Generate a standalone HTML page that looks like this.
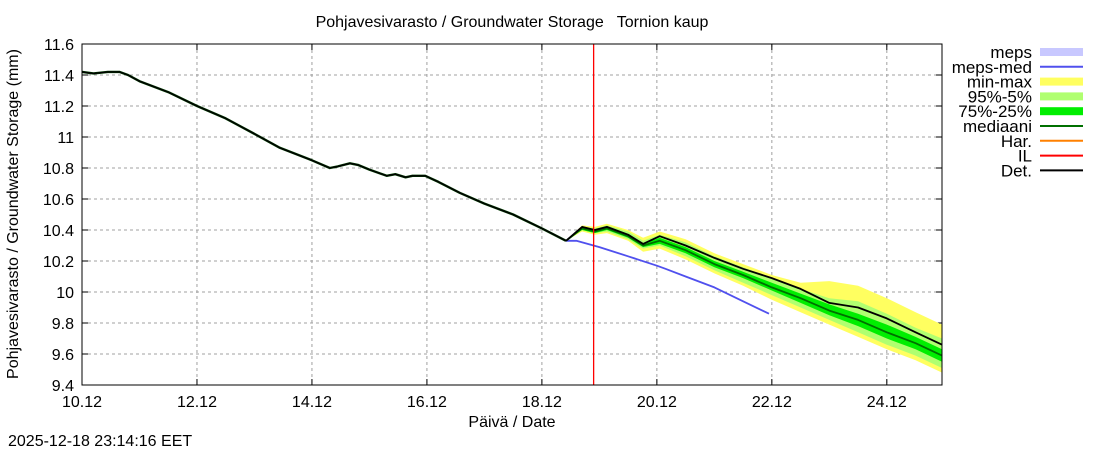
<!DOCTYPE html>
<html><head><meta charset="utf-8"><style>
body{margin:0;background:#fff;font-family:"Liberation Sans",sans-serif;}
svg text{font-family:"Liberation Sans",sans-serif;font-size:16px;fill:#000;white-space:pre;}
svg text.leg{font-size:17px;}
</style></head><body>
<svg id="c" width="1100" height="450">
</svg>
<script>
const histDays=[0,0.2,0.45,0.65,0.8,1.0,1.5,2.0,2.5,3.0,3.44,4.0,4.31,4.45,4.66,4.8,5.0,5.3,5.45,5.63,5.75,5.97,6.2,6.57,7.0,7.5,8.0,8.42];
const histVals=[11.42,11.41,11.42,11.42,11.40,11.36,11.29,11.20,11.12,11.02,10.93,10.85,10.80,10.81,10.83,10.82,10.79,10.75,10.76,10.74,10.75,10.75,10.71,10.64,10.57,10.50,10.41,10.33];
const fcDays=[8.42,8.7,8.92,9.13,9.5,9.76,10.05,10.5,11,11.5,12,12.5,13,13.5,14,14.5,14.96];
const fcMin=[10.33,10.39,10.37,10.38,10.33,10.26,10.28,10.21,10.12,10.04,9.95,9.87,9.79,9.71,9.63,9.56,9.48];
const fcP5=[10.33,10.40,10.38,10.39,10.34,10.28,10.30,10.23,10.14,10.06,9.98,9.90,9.82,9.74,9.66,9.59,9.51];
const fcP25=[10.33,10.40,10.38,10.40,10.35,10.29,10.31,10.25,10.16,10.09,10.01,9.93,9.85,9.78,9.70,9.63,9.55];
const fcMed=[10.33,10.41,10.39,10.41,10.36,10.30,10.33,10.27,10.18,10.11,10.03,9.96,9.88,9.82,9.74,9.67,9.59];
const fcP75=[10.33,10.42,10.40,10.42,10.37,10.31,10.35,10.29,10.20,10.13,10.06,9.99,9.92,9.86,9.79,9.71,9.63];
const fcP95=[10.33,10.42,10.41,10.43,10.39,10.33,10.37,10.32,10.23,10.16,10.09,10.02,9.96,9.94,9.86,9.77,9.70];
const fcMax=[10.33,10.43,10.42,10.44,10.40,10.35,10.39,10.34,10.25,10.18,10.11,10.06,10.07,10.04,9.96,9.87,9.79];
const fcDet=[10.33,10.42,10.40,10.42,10.37,10.31,10.36,10.30,10.22,10.15,10.09,10.02,9.93,9.90,9.83,9.74,9.66];
const mepsDays=[8.42,8.6,9.0,9.5,10.0,10.15,10.5,11.0,11.5,11.95];
const mepsVals=[10.33,10.33,10.29,10.23,10.17,10.15,10.10,10.03,9.94,9.86];
const yTicks=[9.4,9.6,9.8,10,10.2,10.4,10.6,10.8,11,11.2,11.4,11.6];
const xTickDays=[0,2,4,6,8,10,12,14];
const xTickLabels=["10.12","12.12","14.12","16.12","18.12","20.12","22.12","24.12"];
const ilDay=8.9;

const L=82,R=942,T=44,B=385,X0=0,X1=14.96,Y0=9.4,Y1=11.6;
const X=d=>L+(d-X0)/(X1-X0)*(R-L);
const Y=v=>B-(v-Y0)/(Y1-Y0)*(B-T);
const svg=document.getElementById('c');
const NS='http://www.w3.org/2000/svg';
function mk(t,a,txt){const e=document.createElementNS(NS,t);for(const k in a)e.setAttribute(k,a[k]);if(txt!==undefined)e.textContent=txt;svg.appendChild(e);return e;}
function pts(ds,vs){return ds.map((d,i)=>X(d).toFixed(1)+','+Y(vs[i]).toFixed(1)).join(' ');}
function band(lo,hi,col,name){const p=pts(fcDays,hi)+' '+pts(fcDays.slice().reverse(),lo.slice().reverse());
const e=mk('polygon',{points:p,fill:col,stroke:'none'});

}
yTicks.forEach(v=>{if(v>Y0&&v<Y1){const g=mk('line',{x1:L,x2:R,y1:Y(v),y2:Y(v),stroke:'#a0a0a0','stroke-dasharray':'3,3'});

}
const t=mk('text',{x:L-8,y:Y(v)+6,'text-anchor':'end'},String(v));


mk('line',{x1:L,x2:L+6,y1:Y(v),y2:Y(v),stroke:'#000'});mk('line',{x1:R,x2:R-6,y1:Y(v),y2:Y(v),stroke:'#000'});});
xTickDays.forEach((d,i)=>{if(d>0){const g=mk('line',{x1:X(d),x2:X(d),y1:T,y2:B,stroke:'#a0a0a0','stroke-dasharray':'3,3'});

}
const t=mk('text',{x:X(d),y:B+22,'text-anchor':'middle'},xTickLabels[i]);


mk('line',{x1:X(d),x2:X(d),y1:B,y2:B-6,stroke:'#000'});mk('line',{x1:X(d),x2:X(d),y1:T,y2:T+6,stroke:'#000'});});
band(fcMin,fcMax,'#ffff60','min-max-band');
band(fcP5,fcP95,'#b0ff70','p95-5-band');
band(fcP25,fcP75,'#00ee00','p75-25-band');
function line(ds,vs,col,w,name){const e=mk('polyline',{points:pts(ds,vs),fill:'none',stroke:col,'stroke-width':w,'stroke-linejoin':'round'});

}
line(mepsDays,mepsVals,'#5050ee',1.8,'meps-med-line');
line(fcDays,fcMed,'#007000',1.8,'median-line');
line(histDays,histVals,'#004000',2.4,'history-line');
line(histDays,histVals,'#000',1.4,'history-det-line');
line(fcDays,fcDet,'#000',1.8,'det-line');
const il=mk('line',{x1:X(ilDay),x2:X(ilDay),y1:T,y2:B,stroke:'#ff0000','stroke-width':1.3});


const fr=mk('rect',{x:L,y:T,width:R-L,height:B-T,fill:'none',stroke:'#000'});


const tt=mk('text',{x:512,y:27,'text-anchor':'middle'},'Pohjavesivarasto / Groundwater Storage   Tornion kaup');


const xt=mk('text',{x:512,y:427,'text-anchor':'middle'},'Päivä / Date');


const yt=mk('text',{x:0,y:0,'text-anchor':'middle',transform:'translate(18,214) rotate(-90)'},'Pohjavesivarasto / Groundwater Storage (mm)');


const ts=mk('text',{x:8,y:446},'2025-12-18 23:14:16 EET');


const legNames=['meps','meps-med','min-max','95%-5%','75%-25%','mediaani','Har.','IL','Det.'];
const legCols=['#c8c8ff','#5050ee','#ffff60','#b0ff70','#00ee00','#007000','#ff8000','#ff0000','#000'];
const legThick=[true,false,true,true,true,false,false,false,false];
legNames.forEach((n,i)=>{const y=52+i*14.8;
const t=mk('text',{x:1032,y:y+6,'text-anchor':'end','class':'leg'},n);


const s=legThick[i]?mk('rect',{x:1040,y:y-4,width:43,height:8,fill:legCols[i]}):mk('line',{x1:1040,x2:1083,y1:y,y2:y,stroke:legCols[i],'stroke-width':2});

});
</script>
</body></html>
